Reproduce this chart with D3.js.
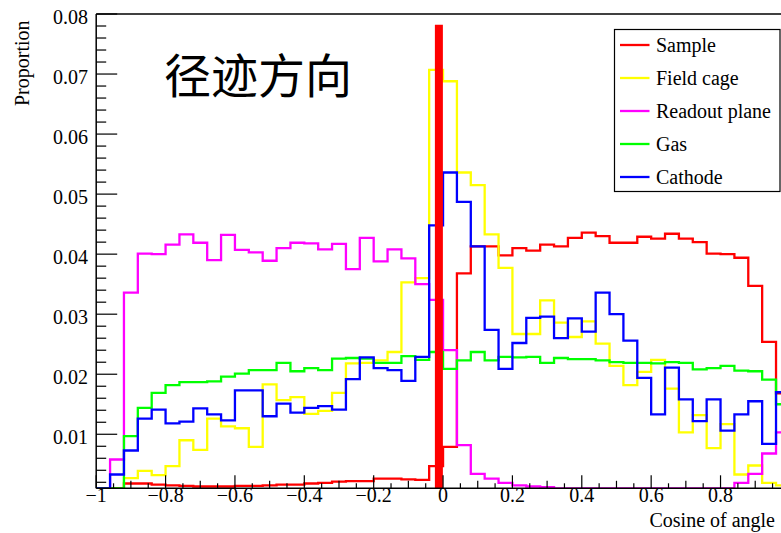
<!DOCTYPE html>
<html>
<head>
<meta charset="utf-8">
<script src="https://cdn.jsdelivr.net/npm/d3@7"></script>
<style>
  html, body { margin: 0; padding: 0; background: #fff; }
  svg { display: block; }
  text { font-family: "Liberation Serif", "Times New Roman", serif; fill: #000; }
</style>
</head>
<body>
<svg id="chart" width="781" height="533"></svg>
<script>
// ---------- data ----------
const binLow = -1, binHigh = 1, nBins = 50;
const seriesNames = ["Sample", "Field cage", "Readout plane", "Gas", "Cathode"];
const seriesColors = ["#ff0000", "#ffff00", "#ff00ff", "#00ff00", "#0000ff"];

const sample = [0.0005,0.0008,0.0018,0.0018,0.0016,0.0015,0.0014,0.0013,0.0013,0.0013,
  0.0014,0.0014,0.0015,0.0016,0.0016,0.0018,0.0019,0.0021,0.0022,0.0022,
  0.0026,0.0026,0.0025,0.0024,0.0047,0.0079,0.0368,0.0413,0.0413,0.0398,
  0.0410,0.0406,0.0416,0.0413,0.0427,0.0436,0.0430,0.0419,0.0419,0.0429,
  0.0426,0.0434,0.0426,0.0420,0.0401,0.0400,0.0394,0.0347,0.0254,0.0168];

const fieldCage = [0.0005,0.0008,0.0027,0.0039,0.0032,0.0047,0.0090,0.0074,0.0126,0.0113,
  0.0110,0.0079,0.0183,0.0157,0.0162,0.0134,0.0139,0.0169,0.0218,0.0219,
  0.0223,0.0237,0.0353,0.0360,0.0707,0.0688,0.0536,0.0515,0.0433,0.0377,
  0.0267,0.0267,0.0323,0.0286,0.0262,0.0288,0.0251,0.0214,0.0182,0.0204,
  0.0224,0.0176,0.0103,0.0132,0.0077,0.0117,0.0033,0.0048,0.0019,0.0015];

const readoutPlane = [0.0005,0.0058,0.0336,0.0401,0.0400,0.0416,0.0433,0.0419,0.0390,0.0432,
  0.0407,0.0403,0.0389,0.0410,0.0419,0.0418,0.0408,0.0417,0.0375,0.0427,
  0.0388,0.0408,0.0393,0.0350,0.0324,0.0240,0.0082,0.0034,0.0026,0.0019,
  0.0015,0.0013,0.0012,0.0005,0.0005,0.0005,0.0005,0.0005,0.0005,0.0005,
  0.0005,0.0005,0.0005,0.0005,0.0005,0.0005,0.0019,0.0034,0.0068,0.0103];

const gas = [0.0005,0.0008,0.0097,0.0144,0.0169,0.0182,0.0187,0.0187,0.0188,0.0196,
  0.0201,0.0207,0.0207,0.0219,0.0205,0.0210,0.0207,0.0226,0.0227,0.0226,
  0.0219,0.0219,0.0230,0.0224,0.0237,0.0209,0.0223,0.0237,0.0223,0.0229,
  0.0228,0.0229,0.0219,0.0227,0.0225,0.0225,0.0223,0.0220,0.0219,0.0219,
  0.0218,0.0220,0.0219,0.0208,0.0210,0.0214,0.0206,0.0205,0.0191,0.0150];

const cathode = [0.0005,0.0033,0.0073,0.0126,0.0141,0.0118,0.0121,0.0143,0.0133,0.0123,
  0.0173,0.0173,0.0130,0.0151,0.0136,0.0144,0.0147,0.0141,0.0192,0.0228,
  0.0210,0.0207,0.0189,0.0229,0.0448,0.0536,0.0487,0.0413,0.0274,0.0209,
  0.0252,0.0294,0.0296,0.0260,0.0293,0.0271,0.0336,0.0300,0.0256,0.0194,
  0.0133,0.0211,0.0158,0.0122,0.0158,0.0106,0.0133,0.0155,0.0084,0.0170];

// thick red marker line near cos = 0
const markerX = [-0.012];
const markerTop = [0.0782];

const xTickLabels = [-1, -0.8, -0.6, -0.4, -0.2, 0, 0.2, 0.4, 0.6, 0.8];
const yTickLabels = [0.01, 0.02, 0.03, 0.04, 0.05, 0.06, 0.07, 0.08];
const yMin = 0.001, yMax = 0.08;
const titleText = "径迹方向";
const xTitle = "Cosine of angle";
const yTitle = "Proportion";

// ---------- drawing ----------
const svg = d3.select("#chart");
const W = 781, H = 533;
svg.append("rect").attr("width", W).attr("height", H).attr("fill", "#fff");

const x = d3.scaleLinear().domain([binLow, binHigh]).range([96.2, 789.9]);
const y = d3.scaleLinear().domain([yMin, yMax]).range([488.3, 14]);
const fL = x.range()[0], fR = x.range()[1], fB = y.range()[0], fT = y.range()[1];

svg.append("clipPath").attr("id", "frameClip")
  .append("rect").attr("x", fL).attr("y", fT).attr("width", fR - fL).attr("height", fB - fT);

const binW = (binHigh - binLow) / nBins;
const allSeries = [sample, fieldCage, readoutPlane, gas, cathode];

const line = d3.line()
  .x(d => x(d[0]))
  .y(d => y(Math.max(yMin, Math.min(yMax, d[1]))))
  .curve(d3.curveStepAfter);

const g = svg.append("g").attr("clip-path", "url(#frameClip)");
allSeries.forEach((vals, si) => {
  const pts = vals.map((v, i) => [binLow + i * binW, v]);
  pts.push([binLow + vals.length * binW, vals[vals.length - 1]]);
  g.append("path")
    .attr("d", line(pts))
    .attr("fill", "none")
    .attr("stroke", seriesColors[si])
    .attr("stroke-width", 2.3)
    .attr("stroke-linejoin", "miter");
});

// marker bar
g.selectAll("line.marker").data(markerX).join("line")
  .attr("class", "marker")
  .attr("x1", d => x(d)).attr("x2", d => x(d))
  .attr("y1", (d, i) => y(markerTop[i])).attr("y2", fB)
  .attr("stroke", "#ff0000").attr("stroke-width", 8);

// frame
const frame = svg.append("g").attr("stroke", "#000").attr("fill", "none");
frame.append("line").attr("x1", fL).attr("x2", fR).attr("y1", fT).attr("y2", fT).attr("stroke-width", 1.5);
frame.append("line").attr("x1", fR).attr("x2", fR).attr("y1", fT).attr("y2", fB).attr("stroke-width", 1.5);

// x axis
const xAxisG = svg.append("g");
xAxisG.append("line").attr("x1", fL).attr("x2", fR).attr("y1", fB).attr("y2", fB)
  .attr("stroke", "#000").attr("stroke-width", 1.5);
const xMinor = d3.range(0, 41).map(i => -1 + i * 0.05);
xAxisG.selectAll("line.xt").data(xMinor).join("line")
  .attr("class", "xt")
  .attr("x1", d => x(d)).attr("x2", d => x(d))
  .attr("y1", fB)
  .attr("y2", (d, i) => fB - (i % 4 === 0 ? 13 : (i % 2 === 0 ? 7.5 : 5)))
  .attr("stroke", "#000").attr("stroke-width", 1.2);
xAxisG.selectAll("text.xl").data(xTickLabels).join("text")
  .attr("class", "xl")
  .attr("x", d => x(d)).attr("y", 502)
  .attr("text-anchor", "middle")
  .attr("font-size", 20)
  .text(d => d < 0 ? "\u2212" + String(Math.abs(d)) : String(d));
svg.append("text").attr("x", 775).attr("y", 527).attr("text-anchor", "end")
  .attr("font-size", 20).text(xTitle);

// y axis
const yAxisG = svg.append("g");
yAxisG.append("line").attr("x1", fL).attr("x2", fL).attr("y1", fT).attr("y2", fB)
  .attr("stroke", "#000").attr("stroke-width", 1.5);
const yMinorTicks = d3.range(1, 41).map(i => +(i * 0.002).toFixed(4));
yAxisG.selectAll("line.yt").data(yMinorTicks).join("line")
  .attr("class", "yt")
  .attr("x1", fL)
  .attr("x2", (d, i) => fL + ((i + 1) % 5 === 0 ? 21 : 10))
  .attr("y1", d => y(d)).attr("y2", d => y(d))
  .attr("stroke", "#000").attr("stroke-width", 1.2);
yAxisG.selectAll("text.yl").data(yTickLabels).join("text")
  .attr("class", "yl")
  .attr("x", 88).attr("y", d => y(d) + 9.5)
  .attr("text-anchor", "end")
  .attr("font-size", 20)
  .text(d => d.toFixed(2));
svg.append("text")
  .attr("transform", "translate(29,20.5) rotate(-90)")
  .attr("text-anchor", "end")
  .attr("font-size", 20)
  .text(yTitle);

// title
svg.append("text")
  .attr("x", 164).attr("y", 93)
  .attr("font-size", 47)
  .style("font-family", "'Noto Sans CJK SC', sans-serif")
  .text(titleText);

// legend
const leg = svg.append("g");
leg.append("rect").attr("x", 614.5).attr("y", 29.5).attr("width", 165.5).attr("height", 162)
  .attr("fill", "#fff").attr("stroke", "#000").attr("stroke-width", 1.2);
const legY = d3.scalePoint().domain(seriesNames).range([45, 177]);
seriesNames.forEach((name, i) => {
  leg.append("line").attr("x1", 620).attr("x2", 649.5)
    .attr("y1", legY(name)).attr("y2", legY(name))
    .attr("stroke", seriesColors[i]).attr("stroke-width", 2.3);
  leg.append("text").attr("x", 656).attr("y", legY(name) + 7)
    .attr("font-size", 20).text(name);
});
</script>
</body>
</html>
